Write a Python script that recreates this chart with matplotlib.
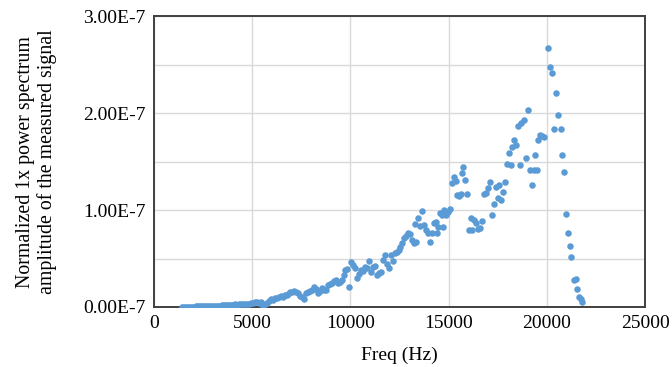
import matplotlib.pyplot as plt
from matplotlib.ticker import MultipleLocator, FuncFormatter

# valores (amplitud en unidades de 1E-7)
freq = [1450, 1550, 1650, 1750, 1850, 1950, 2050, 2150, 2250, 2350, 2450, 2550, 2650, 2750,
        2850, 2950, 3050, 3150, 3250, 3350, 3450, 3550, 3650, 3750, 3850, 3950, 4050, 4150,
        4250, 4350, 4450, 4550, 4650, 4750, 4850, 4950, 5050, 5150, 5250, 5350, 5450, 5550,
        5650, 5750, 5850, 5950, 6050, 6150, 6250, 6350, 6450, 6550, 6650, 6750, 6850, 6950,
        7050, 7150, 7250, 7350, 7450, 7550, 7650, 7750, 7850, 7950, 8050, 8150, 8250, 8350,
        8450, 8550, 8650, 8750, 8850, 8950, 9050, 9150, 9250, 9350, 9450, 9550, 9650, 9750,
        9850, 9950, 10050, 10150, 10250, 10350, 10450, 10550, 10650, 10750, 10850, 10950,
        11050, 11150, 11250, 11350, 11450, 11550, 11650, 11750, 11850, 11950, 12050, 12150,
        12250, 12350, 12450, 12550, 12650, 12750, 12850, 12950, 13050, 13150, 13250, 13300,
        13350, 13450, 13550, 13650, 13750, 13850, 13950, 14050, 14150, 14250, 14350, 14400,
        14450, 14550, 14650, 14700, 14750, 14850, 14950, 15050, 15150, 15250, 15350, 15450,
        15550, 15650, 15700, 15750, 15850, 15950, 16050, 16150, 16200, 16300, 16400, 16500,
        16600, 16700, 16800, 16900, 17000, 17100, 17200, 17300, 17400, 17500, 17550, 17650,
        17750, 17850, 17950, 18050, 18150, 18250, 18350, 18450, 18550, 18650, 18700, 18850,
        18950, 19050, 19150, 19250, 19350, 19400, 19500, 19550, 19650, 19750, 19850, 20080,
        20160, 20270, 20380, 20470, 20560, 20710, 20770, 20880, 20990, 21070, 21170, 21250,
        21370, 21470, 21550, 21660, 21730, 21790]

amp = [0.002, 0.003, 0.002, 0.004, 0.003, 0.005, 0.004, 0.006, 0.007, 0.006, 0.008, 0.009,
       0.008, 0.010, 0.011, 0.012, 0.011, 0.014, 0.015, 0.013, 0.017, 0.018, 0.016, 0.020,
       0.022, 0.019, 0.024, 0.026, 0.023, 0.029, 0.031, 0.028, 0.034, 0.036, 0.033, 0.040,
       0.045, 0.050, 0.055, 0.040, 0.055, 0.015, 0.030, 0.040, 0.065, 0.080, 0.075, 0.095,
       0.090, 0.100, 0.110, 0.105, 0.120, 0.125, 0.135, 0.150, 0.155, 0.160, 0.150, 0.140,
       0.115, 0.100, 0.080, 0.140, 0.150, 0.160, 0.175, 0.210, 0.190, 0.140, 0.165, 0.195,
       0.180, 0.175, 0.225, 0.235, 0.245, 0.265, 0.280, 0.250, 0.260, 0.280, 0.330, 0.380,
       0.390, 0.210, 0.465, 0.435, 0.400, 0.295, 0.345, 0.380, 0.370, 0.415, 0.400, 0.475,
       0.365, 0.410, 0.425, 0.330, 0.350, 0.365, 0.485, 0.535, 0.440, 0.400, 0.535, 0.470,
       0.555, 0.570, 0.590, 0.620, 0.660, 0.710, 0.730, 0.760, 0.750, 0.690, 0.660, 0.860,
       0.670, 0.915, 0.840, 0.990, 0.845, 0.795, 0.760, 0.675, 0.765, 0.865, 0.880, 0.760,
       0.830, 0.965, 0.950, 0.820, 1.000, 0.950, 0.980, 1.015, 1.275, 1.340, 1.300, 1.155,
       1.140, 1.170, 1.380, 1.445, 1.315, 1.165, 0.795, 0.915, 0.790, 0.900, 0.865, 0.800,
       0.810, 0.890, 1.170, 1.175, 1.225, 1.290, 0.950, 1.060, 1.240, 1.120, 1.260, 1.105,
       1.190, 1.290, 1.480, 1.585, 1.465, 1.650, 1.720, 1.670, 1.865, 1.465, 1.895, 1.930,
       1.535, 2.030, 1.410, 1.260, 1.410, 1.565, 1.410, 1.720, 1.775, 1.760, 1.755, 2.667,
       2.480, 2.410, 1.840, 2.210, 1.980, 1.840, 1.570, 1.390, 0.960, 0.765, 0.630, 0.515,
       0.280, 0.285, 0.185, 0.105, 0.080, 0.055]

plt.rcParams['font.family'] = ['Liberation Serif', 'DejaVu Serif']

fig = plt.figure(figsize=(6.72, 3.67), dpi=100)
ax = fig.add_axes([0.229, 0.1635, 0.731, 0.7925])

ax.scatter(freq, [a * 1e-7 for a in amp], s=22, color='#5B9BD5', linewidths=0, zorder=3)

ax.set_xlim(0, 25000)
ax.set_ylim(0, 3e-7)
ax.xaxis.set_major_locator(MultipleLocator(5000))
ax.yaxis.set_major_locator(MultipleLocator(1e-7))
ax.yaxis.set_minor_locator(MultipleLocator(0.5e-7))
ax.yaxis.set_major_formatter(FuncFormatter(lambda v, p: f'{v / 1e-7:.2f}E-7'))
ax.grid(True, which='both', color='#D9D9D9', linewidth=1, zorder=0)
ax.tick_params(which='both', length=0, labelsize=14, colors='black', pad=6)

for s in ax.spines.values():
    s.set_color('#404040')
    s.set_linewidth(1.4)

ax.set_xlabel('Freq (Hz)', fontsize=14, labelpad=10)
ax.set_ylabel('Normalized 1x power spectrum\namplitude of the measured signal',
              fontsize=14.3, labelpad=19, linespacing=1.1)

fig.savefig('out.png', dpi=100)
